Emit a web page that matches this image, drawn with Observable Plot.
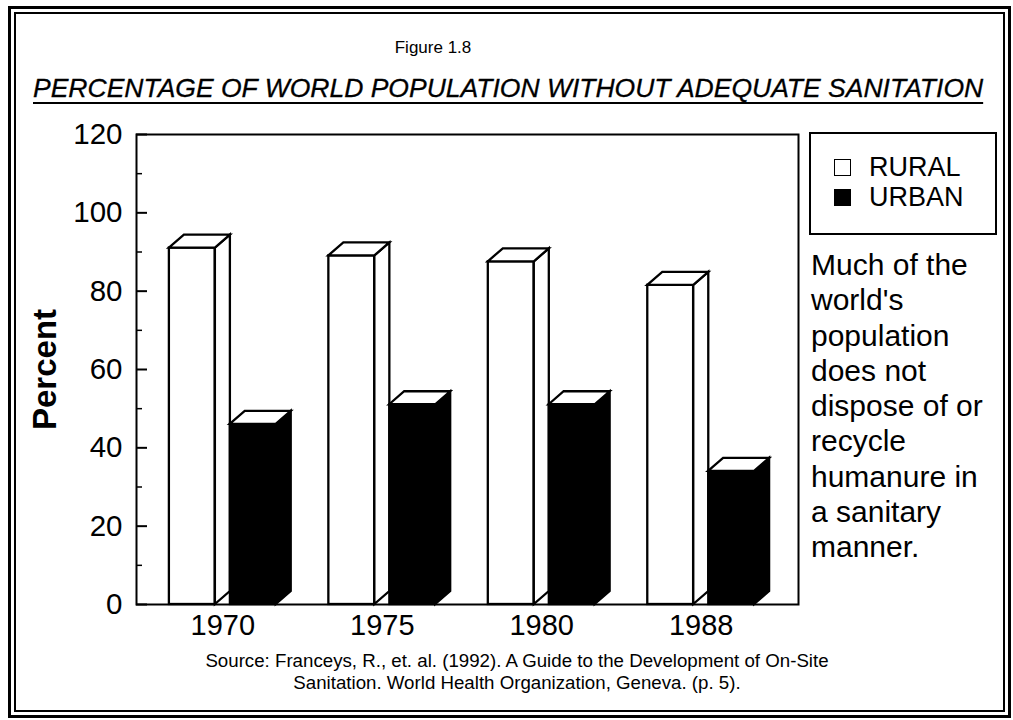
<!DOCTYPE html>
<html>
<head>
<meta charset="utf-8">
<script src="https://cdn.jsdelivr.net/npm/d3@7"></script>
<script src="https://cdn.jsdelivr.net/npm/@observablehq/plot@0.6"></script>
<style>
  html, body { margin: 0; padding: 0; background: #fff; }
  #page { position: relative; width: 1013px; height: 720px; overflow: hidden;
          font-family: "Liberation Sans", Arial, Helvetica, sans-serif; color: #000; background: #fff; }
  .box { position: absolute; box-sizing: border-box; border: 2px solid #000; }
  .t { position: absolute; white-space: nowrap; line-height: 1; }
  #chart { position: absolute; left: 0; top: 0; }
  #figno { left: 0; width: 866px; text-align: center; top: 39px; font-size: 17px; }
  #title { left: 33px; top: 75px; font-size: 26.5px; font-style: italic; -webkit-text-stroke: 0.3px #000;
           text-decoration: underline; text-decoration-thickness: 2px; text-underline-offset: 5px; }
  #legend { left: 809px; top: 132px; width: 188px; height: 103px; }
  .lrow { position: absolute; left: 23px; font-size: 27px; line-height: 1; white-space: nowrap; }
  .sw { display: inline-block; width: 15px; height: 15px; border: 1.5px solid #000; margin-right: 18px; vertical-align: baseline; }
  #note { left: 811px; top: 247px; font-size: 30px; line-height: 35.3px; white-space: pre; }
  #source { left: 117px; width: 800px; top: 650px; font-size: 18.7px; line-height: 21.5px; text-align: center; white-space: pre; }
</style>
</head>
<body>
<div id="page">
  <div class="box" id="outerBorder" style="left:8px;top:6px;width:1003px;height:712px;border-width:3px;"></div>
  <div class="box" id="innerBorder" style="left:14px;top:12px;width:991px;height:700px;"></div>
  <div id="chart"></div>
  <div class="t" id="figno"></div>
  <div class="t" id="title"></div>
  <div class="box" id="legend"></div>
  <div class="t" id="note"></div>
  <div class="t" id="source"></div>
</div>
<script>
// ---- data ----
const years = ["1970", "1975", "1980", "1988"];
const ruralPct = [91, 89, 87.5, 81.5];
const urbanPct = [46, 51, 51, 34];
const seriesNames = ["RURAL", "URBAN"];
const yTickValues = [0, 20, 40, 60, 80, 100, 120];
const yMinorTickValues = [10, 30, 50, 70, 90, 110];
const figureNumber = "Figure 1.8";
const titleText = "PERCENTAGE OF WORLD POPULATION WITHOUT ADEQUATE SANITATION";
const yLabel = "Percent";
const noteLines = ["Much of the", "world's", "population", "does not", "dispose of or", "recycle", "humanure in", "a sanitary", "manner."];
const sourceLines = ["Source: Franceys, R., et. al. (1992). A Guide to the Development of On-Site",
                     "Sanitation. World Health Organization, Geneva. (p. 5)."];

// table built from the arrays
const rows = years.flatMap((year, i) => [
  {year, series: seriesNames[0], value: ruralPct[i]},
  {year, series: seriesNames[1], value: urbanPct[i]}
]);

// 3-D drawing style (pixels)
const DX = 15, DY = 13, BAR_W = 46, LINE_W = 2.3;

// custom mark: side and top faces of each bar, placed with Plot's scales
function depthFaces(seriesName, sideFill) {
  return (index, scales) => {
    const {x, y} = scales;
    const bw = x.bandwidth();
    const g = d3.create("svg:g")
      .attr("stroke", "#000").attr("stroke-width", LINE_W).attr("stroke-linejoin", "miter");
    for (const d of rows.filter(r => r.series === seriesName)) {
      const left = seriesName === seriesNames[0] ? x(d.year) : x(d.year) + bw - BAR_W;
      const right = left + BAR_W;
      const yt = y(d.value), yb = y(0);
      g.append("path")
        .attr("fill", sideFill)
        .attr("d", `M${right},${yt}L${right + DX},${yt - DY}L${right + DX},${yb - DY}L${right},${yb}Z`);
      g.append("path")
        .attr("fill", "#fff")
        .attr("d", `M${left},${yt}L${left + DX},${yt - DY}L${right + DX},${yt - DY}L${right},${yt}Z`);
    }
    return g.node();
  };
}

const chart = Plot.plot({
  width: 1013,
  height: 720,
  marginLeft: 136,
  marginRight: 215,
  marginTop: 134,
  marginBottom: 116,
  style: {background: "transparent", fontFamily: "'Liberation Sans', Arial, sans-serif", color: "#000", overflow: "visible"},
  x: {type: "band", domain: years, range: [137, 786], paddingInner: 0.33, paddingOuter: 0.2, round: false, label: null},
  y: {domain: [0, 120], label: null},
  marks: [
    Plot.barY(rows.filter(r => r.series === seriesNames[0]), {
      x: "year", y: "value", fill: "#fff", stroke: "#000", strokeWidth: LINE_W, insetRight: 61
    }),
    depthFaces(seriesNames[0], "#fff"),
    Plot.barY(rows.filter(r => r.series === seriesNames[1]), {
      x: "year", y: "value", fill: "#000", stroke: "#000", strokeWidth: LINE_W, insetLeft: 61
    }),
    depthFaces(seriesNames[1], "#000"),
    Plot.frame({stroke: "#000", strokeWidth: 2}),
    Plot.axisY({ticks: yTickValues, tickSize: 11, dx: 11, tickFormat: () => "", label: null, strokeWidth: 2}),
    Plot.axisY({ticks: yMinorTickValues, tickSize: 6, dx: 6, tickFormat: () => "", label: null, strokeWidth: 1.5}),
    Plot.axisY({ticks: yTickValues, tickSize: 0, tickPadding: 14, fontSize: 29.5, label: null}),
    Plot.axisX({tickSize: 0, tickPadding: 10, fontSize: 29, label: null}),
    Plot.text([yLabel], {frameAnchor: "left", textAnchor: "middle", rotate: -90, dx: -91, fontSize: 33, fontWeight: "bold"})
  ]
});
document.getElementById("chart").appendChild(chart);

// texts around the chart
document.getElementById("figno").textContent = figureNumber;
document.getElementById("title").textContent = titleText;
document.getElementById("note").textContent = noteLines.join("\n");
document.getElementById("source").textContent = sourceLines.join("\n");

// legend
const legend = document.getElementById("legend");
seriesNames.forEach((name, i) => {
  const row = document.createElement("div");
  row.className = "lrow";
  row.style.top = (i === 0 ? 20 : 50) + "px";
  const sw = document.createElement("span");
  sw.className = "sw";
  sw.style.background = i === 0 ? "#fff" : "#000";
  row.appendChild(sw);
  row.appendChild(document.createTextNode(name));
  legend.appendChild(row);
});
</script>
</body>
</html>
